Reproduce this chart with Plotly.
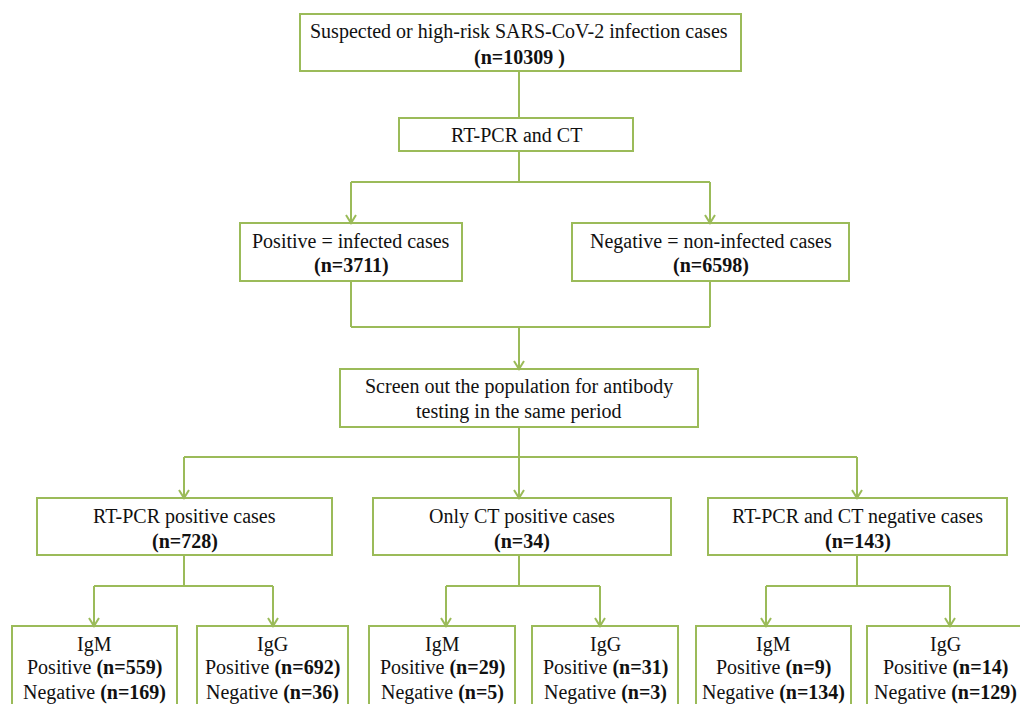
import plotly.graph_objects as go

# ---------------- data ----------------
top_label = "Suspected or high-risk SARS-CoV-2 infection cases"
top_n_text = "(n=10309 )"
test_label = "RT-PCR and CT"
split_labels = ["Positive = infected cases", "Negative = non-infected cases"]
split_n = [3711, 6598]
screen_lines = ["Screen out the population for antibody", "testing in the same period"]
group_labels = ["RT-PCR positive cases", "Only CT positive cases", "RT-PCR and CT negative cases"]
group_n = [728, 34, 143]
antibody_names = ["IgM", "IgG"]
igm_pos = [559, 29, 9]
igm_neg = [169, 5, 134]
igg_pos = [692, 31, 14]
igg_neg = [36, 3, 129]

# ---------------- layout (pixel geometry) ----------------
W, H = 1020, 704
LINE = "#9BBB59"
FONT = "Liberation Serif"
FS = 20

shapes = []
annotations = []


def box(x0, x1, y0, y1):
    shapes.append(dict(type="rect", xref="x", yref="y", x0=x0, x1=x1, y0=y0, y1=y1,
                       line=dict(color=LINE, width=2), fillcolor="white", layer="below"))


def path(points):
    d = "M " + " L ".join(f"{x},{y}" for x, y in points)
    shapes.append(dict(type="path", xref="x", yref="y", path=d,
                       line=dict(color=LINE, width=2)))


def arrow_down(x, y0, y1):
    path([(x, y0), (x, y1)])
    path([(x - 5, y1 - 8), (x, y1), (x + 5, y1 - 8)])


def text(x, y, s):
    annotations.append(dict(x=x, y=y, xref="x", yref="y", text=s, showarrow=False,
                            xanchor="center", yanchor="middle",
                            font=dict(family=FONT, size=FS, color="#111111")))


# level 0
box(300, 741, 14, 71)
text(519, 31, top_label)
text(519, 57, "<b>" + top_n_text + "</b>")
path([(519, 71), (519, 118)])

# level 1
box(399, 633, 118, 151)
text(516, 135, test_label)
path([(519, 151), (519, 182)])
split_x = [351, 710]
split_box = [(240, 462), (572, 849)]
path([(split_x[0], 182), (split_x[1], 182)])
for i in range(2):
    arrow_down(split_x[i], 182, 223)
    bx0, bx1 = split_box[i]
    box(bx0, bx1, 223, 281)
    text((bx0 + bx1) / 2, 241, split_labels[i])
    text((bx0 + bx1) / 2, 265, f"<b>(n={split_n[i]})</b>")
    path([(split_x[i], 281), (split_x[i], 327)])
path([(split_x[0], 327), (split_x[1], 327)])
arrow_down(519, 327, 369)

# level 2
box(340, 698, 369, 427)
text(519, 386, screen_lines[0])
text(519, 411, screen_lines[1])
path([(519, 427), (519, 457)])

group_x = [184, 519, 857]
group_box = [(37, 332), (373, 671), (708, 1007)]
child_x = [(94, 273), (446, 600), (766, 950)]
child_box = [((12, 177), (197, 348)), ((369, 515), (532, 678)), ((696, 851), (867, 1033))]
text_cx = [((12 + 177) / 2, (197 + 348) / 2), ((369 + 515) / 2, (532 + 678) / 2), ((696 + 851) / 2, 945)]
pos_vals = [igm_pos, igg_pos]
neg_vals = [igm_neg, igg_neg]

path([(group_x[0], 457), (group_x[2], 457)])
for g in range(3):
    arrow_down(group_x[g], 457, 498)
    bx0, bx1 = group_box[g]
    box(bx0, bx1, 498, 555)
    cx = (bx0 + bx1) / 2
    text(cx, 516, group_labels[g])
    text(cx, 541, f"<b>(n={group_n[g]})</b>")
    path([(group_x[g], 555), (group_x[g], 586)])
    path([(child_x[g][0], 586), (child_x[g][1], 586)])
    for a in range(2):
        arrow_down(child_x[g][a], 586, 626)
        cx0, cx1 = child_box[g][a]
        box(cx0, cx1, 626, 716)
        ccx = text_cx[g][a]
        text(ccx, 644, antibody_names[a])
        text(ccx, 667, f"Positive <b>(n={pos_vals[a][g]})</b>")
        text(ccx, 692, f"Negative <b>(n={neg_vals[a][g]})</b>")

fig = go.Figure()
fig.update_layout(
    width=W, height=H,
    margin=dict(l=0, r=0, t=0, b=0),
    paper_bgcolor="white", plot_bgcolor="white",
    xaxis=dict(range=[0, W], visible=False, fixedrange=True),
    yaxis=dict(range=[H, 0], visible=False, fixedrange=True),
    shapes=shapes, annotations=annotations, showlegend=False,
)
fig.write_html("out.html", config={"displayModeBar": False},
               post_script="document.body.style.margin='0';")
